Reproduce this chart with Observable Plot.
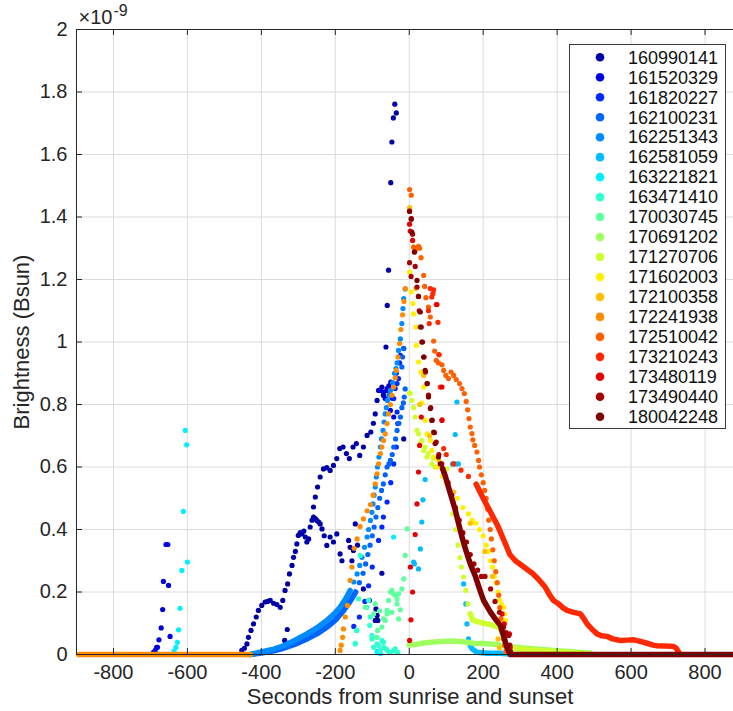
<!DOCTYPE html>
<html><head><meta charset="utf-8">
<script src="https://cdn.jsdelivr.net/npm/d3@7"></script>
<script src="https://cdn.jsdelivr.net/npm/@observablehq/plot@0.6"></script>
<style>body{margin:0;background:#fff;} #chart{width:733px;height:711px;}</style>
</head><body><div id="chart"></div>
<script>
const seriesNames = ["160990141","161520329","161820227","162100231","162251343","162581059","163221821","163471410","170030745","170691202","171270706","171602003","172100358","172241938","172510042","173210243","173480119","173490440","180042248"];
const seriesColors = ["#0000A8","#0000E0","#0028FF","#0064FF","#008CFF","#00BCFF","#00F0FF","#30FFD0","#60FFA0","#A0FF60","#D0FF30","#FFF000","#FFBF00","#FF8C00","#FF6000","#FF2800","#E60000","#A80000","#800000"];
const xTicks = [-800,-600,-400,-200,0,200,400,600,800];
const xTickLabels = ["-800","-600","-400","-200","0","200","400","600","800"];
const yTicks = [0,0.2,0.4,0.6,0.8,1,1.2,1.4,1.6,1.8,2];
const yTickLabels = ["0","0.2","0.4","0.6","0.8","1","1.2","1.4","1.6","1.8","2"];
const xLabel = "Seconds from sunrise and sunset";
const yLabel = "Brightness (Bsun)";
const yExponentBase = "\u00d710";
const yExponent = "-9";

// dots per series: [seconds, brightness (x1e-9)]
const dots160990141 = [[-453,0.013],[-446,0.02],[-439,0.034],[-435,0.055],[-428,0.077],[-421,0.098],[-414,0.12],[-408,0.141],[-399,0.157],[-390,0.168],[-383,0.17],[-376,0.173],[-367,0.164],[-358,0.16],[-349,0.151],[-342,0.173],[-336,0.205],[-329,0.226],[-324,0.258],[-317,0.285],[-313,0.311],[-308,0.33],[-304,0.354],[-300,0.381],[-295,0.39],[-290,0.386],[-285,0.395],[-281,0.376],[-277,0.36],[-272,0.37],[-268,0.408],[-263,0.43],[-259,0.44],[-254,0.435],[-250,0.429],[-245,0.424],[-241,0.418],[-236,0.402],[-230,0.38],[-259,0.472],[-254,0.504],[-248,0.536],[-241,0.568],[-232,0.594],[-223,0.598],[-214,0.589],[-205,0.605],[-196,0.627],[-188,0.659],[-179,0.664],[-170,0.643],[-162,0.627],[-152,0.664],[-143,0.675],[-134,0.637],[-124,0.664],[-114,0.701],[-104,0.712],[-97,0.74],[-92,0.77],[-87,0.813],[-83,0.845],[-74,0.856],[-70,0.83],[-60,0.845],[-50,0.872],[-63,0.984],[-59.5,1.117],[-56,1.23],[-50,1.51],[-47,1.64],[-43,1.717],[-35,1.733],[-39,1.761],[-330,0.08],[-337,0.045],[-223,0.349],[-214,0.376],[-205,0.36],[-196,0.386],[-187,0.322],[-182,0.3],[-164,0.365],[-160,0.343],[-151,0.333],[-146,0.418],[-155,0.3],[-140,0.35],[-124,0.21],[-108,0.173],[-92,0.109],[-87,0.125],[-90,0.146],[-85,0.109],[-74,0.26],[-15,0.69]];
const dots161520329 = [[-692,0.007],[-687,0.013],[-683,0.023],[-677,0.047],[-671,0.085],[-667,0.144],[-665,0.234],[-658,0.352],[-653,0.352],[-651,0.221],[-647,0.058],[-681,0.023],[-78,0.845],[-69,0.84],[-65,0.819],[-60,0.851],[-55,0.86],[-51,0.781],[-42,0.76],[-46,0.82]];
const dots161820227 = [[-83,0.365],[-74,0.408],[-70,0.44],[-60,0.488],[-50,0.55],[-42,0.61],[-35,0.664],[-31,0.739],[-33,0.776],[-42,0.819],[-38,0.851],[-33,0.867],[-29,0.883],[-35,0.9],[-26,0.933],[-24,0.957],[-15,0.98],[-100,0.28],[-110,0.22],[-120,0.17],[-135,0.12],[-150,0.09]];
const trace162100231 = [[-430,0],[-400,0.005],[-370,0.011],[-340,0.02],[-310,0.032],[-280,0.048],[-250,0.066],[-220,0.09],[-200,0.11],[-178,0.14],[-160,0.17],[-145,0.2]];
const dots162100231 = [[-135,0.23],[-125,0.26],[-118,0.29],[-112,0.32],[-106,0.35],[-100,0.38],[-95,0.408],[-90,0.44],[-85,0.47],[-80,0.5],[-75,0.525],[-70,0.546],[-65,0.575],[-60,0.6],[-55,0.61],[-51,0.621],[-46,0.64],[-42,0.664],[-37,0.69],[-33,0.717],[-28,0.74],[-24,0.76],[-20,0.79],[-16,0.805],[-13.5,0.824],[-11,0.85],[-20,0.92],[-18,0.952],[-15,0.979]];
const trace162251343 = [[-430,0],[-400,0.008],[-370,0.016],[-340,0.028],[-310,0.045],[-277,0.066],[-250,0.085],[-223,0.109],[-205,0.128],[-187,0.151],[-172,0.178],[-160,0.205]];
const dots162251343 = [[-150,0.232],[-141,0.258],[-134,0.285],[-128,0.311],[-121,0.343],[-114,0.376],[-110,0.4],[-105,0.429],[-101,0.455],[-98,0.482],[-95,0.51],[-92,0.536],[-89,0.568],[-86,0.6],[-82,0.632],[-78,0.664],[-75,0.69],[-71,0.717],[-68,0.744],[-65,0.77],[-62,0.79],[-59,0.813],[-55,0.83],[-51,0.845],[-45,0.87],[-40,0.9],[-36,0.915],[-33,0.933],[-29,0.973],[-24,1.01],[-20,1.059],[-17,1.107],[-15,1.139],[-11,1.17]];
const trace162581059 = [[165,0.03],[170,0.018],[183,0.007],[210,0.004],[246,0.004],[264,0.002]];
const dots162581059 = [[11.7,0.296],[14,0.29],[25,0.274],[30,0.338],[34,0.424],[37,0.495],[43,0.56],[117,0.61],[125,0.61],[133,0.61],[124.5,0.704],[129,0.808],[147,0.226],[153,0.162],[156,0.098],[160,0.05],[165,0.03]];
const dots163221821 = [[-606,0.717],[-602,0.671],[-611,0.458],[-600,0.296],[-615,0.269],[-620,0.148],[-624,0.079],[-627,0.039],[-631,0.023],[-636,0.011],[-42.5,0.376],[-78,0.003],[-87,0.01]];
const dots163471410 = [[-132.6,0.317],[-137,0.178],[-143,0.077],[-146,0.034],[-141.5,0.077],[-146,0.036],[-114.5,0.151],[-110,0.173],[-107,0.093],[-105.5,0.12],[-101,0.05],[-101,0.061],[-96.5,0.023],[-87,0.034],[-87,0.055],[-83,0.029],[-78.5,0.013],[-74,0.045],[-69.5,0.023],[-69.5,0.039],[-62,0.018],[-60,0.013],[-53,0.007],[-51,0.007],[-42.5,0.013],[-38,0.018],[-33,0.007],[-30.6,0.007]];
const dots170030745 = [[-6,0.402],[-11,0.317],[-15,0.242],[-20,0.21],[-29,0.194],[-33,0.178],[-42,0.194],[-51,0.2],[-56,0.173],[-47,0.205],[-60,0.13],[-69.5,0.114],[-74,0.088],[-92,0.162],[-96.5,0.13],[-119,0.151],[-24,0.143],[-33,0.162],[-29,0.114],[-47,0.135],[-60,0.141],[-65,0.109],[-85.6,0.077],[-89,0.055],[-80,0.14],[-38,0.19]];
const trace170691202 = [[0,0.03],[20,0.033],[40,0.037],[66,0.04],[90,0.042],[120,0.043],[150,0.04],[174,0.036],[200,0.035],[219,0.034],[240,0.031],[264,0.026],[300,0.022],[350,0.017],[400,0.012],[450,0.008],[490,0.004]];
const dots170691202 = [];
const dots171270706 = [[0.8,0.837],[2.7,0.835],[7,0.813],[11.7,0.79],[16,0.76],[21,0.717],[25,0.706],[30,0.675],[34,0.685],[39,0.653],[43,0.664],[48,0.632],[52,0.643],[61,0.61],[66,0.627],[70,0.6],[84,0.61],[102,0.594],[110,0.52],[118,0.45],[125,0.4],[132,0.35],[137,0.31],[141,0.28],[147,0.248],[153,0.205],[159,0.162],[165,0.13]];
const trace171270706 = [[165,0.13],[172,0.11],[185,0.105],[200,0.1],[215,0.097],[230,0.092],[245,0.085],[255,0.06],[262,0.03],[270,0.02],[300,0.017],[350,0.013],[400,0.009],[450,0.005],[490,0.002]];
const dots171602003 = [[0.8,1.427],[0.8,1.224],[5,1.16],[10,1.123],[11.7,1.09],[18,1.048],[19,0.989],[25,0.936],[31.6,0.904],[39,0.856],[34,0.805],[43,0.749],[48,0.706],[57,0.685],[61,0.653],[66,0.632],[75,0.6],[90,0.57],[100,0.55],[115,0.52],[130,0.5],[145,0.47],[160,0.45],[170,0.43],[180,0.42],[190,0.4],[200,0.38],[208,0.35],[215,0.33],[220,0.3],[225,0.28],[230,0.25],[235,0.23],[240,0.2],[244,0.173],[250,0.16],[255,0.151],[258,0.13],[260,0.109],[264,0.066],[266,0.03],[268,0.01]];
const dots172100358 = [[0.8,1.43],[11.7,1.304],[18,1.171],[39,0.893],[28,0.8],[55,0.7],[80,0.62],[120,0.52],[165,0.42],[205,0.33],[225,0.25],[240,0.05],[244,0.022],[250,0.1],[262,0.01]];
const trace172241938 = [[-894,0],[-430,0]];
const dots172241938 = [[-187,0.013],[-184,0.03],[-180,0.055],[-178,0.082],[-173,0.12],[-167,0.157],[-160,0.237],[-155,0.28],[-149,0.34],[-141,0.37],[-133,0.41],[-124,0.434],[-114,0.46],[-105,0.48],[-98,0.51],[-92,0.546],[-87,0.578],[-83,0.61],[-78,0.643],[-74,0.664],[-69.5,0.685],[-65,0.706],[-60,0.739],[-56,0.77],[-51,0.8],[-47,0.83],[-42.5,0.856],[-38,0.885],[-35,0.909],[-30.6,0.952],[-26,0.995],[-22.5,1.04],[-18,1.087],[-14.3,1.13],[-10.8,1.171]];
const dots172510042 = [[0.8,1.488],[5.4,1.47],[11.7,1.304],[16,1.293],[25,1.306],[28,1.3],[32,1.27],[39,1.213],[41.6,1.178],[45,1.142],[52,1.112],[57,1.08],[66,1.003],[68.6,0.971],[73,0.941],[79,0.933],[81,0.959],[88.5,0.927],[93,0.909],[99,0.893],[106,0.883],[113,0.904],[120,0.893],[127,0.88],[136,0.867],[142.6,0.851],[149,0.835],[154,0.81],[158,0.783],[161.6,0.755],[165,0.728],[169.6,0.707],[172,0.687],[177,0.669],[183,0.648],[187.6,0.621],[190,0.6],[195,0.575],[200,0.55],[204,0.525],[208,0.5],[212,0.465],[215,0.43],[219,0.4],[222,0.37],[226,0.335],[230,0.3],[234,0.265],[238,0.23],[242,0.19],[245,0.15],[248,0.115],[252,0.08],[255,0.05],[258,0.03],[262,0.01]];
const dots173210243 = [[57,1.171],[64,1.155],[61,1.144],[66,1.167],[73,1.12],[52,1.1],[54,1.059],[77.6,1.063],[84,0.856],[88.5,0.751],[93,0.659],[80,0.96],[100,0.64],[120,0.61],[140,0.59],[160,0.57]];
const trace173210243 = [[181,0.545],[200,0.5],[220,0.455],[240,0.41],[258,0.36],[272,0.32],[287,0.3],[310,0.28],[333,0.26],[350,0.24],[368,0.215],[380,0.19],[390,0.173],[403,0.163],[415,0.15],[427,0.141],[445,0.135],[463,0.13],[472,0.115],[481,0.098],[495,0.08],[508,0.066],[520,0.06],[535,0.058],[550,0.05],[571,0.045],[590,0.046],[607,0.047],[625,0.042],[643,0.036],[660,0.03],[670,0.028],[690,0.027],[715,0.026],[722,0.02],[729,0.007],[731,0]];
const dots173480119 = [[0.8,1.377],[2.7,1.355],[9,1.325],[32.5,0.76],[28,0.669],[25,0.584],[21,0.482],[16,0.384],[9,0.2],[4.5,0.111],[0.9,0.045],[3,0.28],[88.5,0.856],[88.5,0.749],[75,1.12],[251,0.13],[257,0.098],[271,0.066],[273,0.023]];
const dots173490440 = [[0.8,1.418],[5.4,1.395],[9,1.345],[14,1.288],[0.8,1.254],[16,1.242],[5,1.21],[21,1.176],[25,1.146],[27,1.1],[30,1.048],[36,1.0],[40,0.952],[44,0.904],[49,0.867],[52,0.83],[58,0.79],[62,0.75],[68,0.71],[73,0.68],[80,0.64],[88,0.61],[95,0.58],[105,0.55],[115,0.51],[125,0.47],[135,0.43],[145,0.39],[155,0.36],[165,0.32],[175,0.29],[185,0.27],[195,0.25],[205,0.25],[220,0.21],[232,0.17],[244,0.135],[255,0.087],[262,0.07],[269,0.061],[272,0.03],[274,0.01]];
const dots180042248 = [[0.8,1.419],[5.4,1.393],[7,1.352],[14,1.288],[21,1.197],[25,1.146],[30,1.096],[32.5,1.048],[34,1.0],[39,0.952],[43,0.909],[48,0.867],[52,0.824],[57,0.787],[61,0.749],[66,0.712],[70,0.675],[79,0.632],[84,0.61],[90,0.595]];
const trace180042248 = [[90,0.595],[97,0.573],[110,0.52],[125,0.46],[138,0.397],[150,0.345],[165,0.29],[178,0.253],[190,0.21],[201,0.173],[220,0.135],[235,0.11],[246,0.093],[255,0.06],[264,0.023],[273,0],[877,0]];

const seriesDots = [dots160990141,dots161520329,dots161820227,dots162100231,dots162251343,dots162581059,dots163221821,dots163471410,dots170030745,dots170691202,dots171270706,dots171602003,dots172100358,dots172241938,dots172510042,dots173210243,dots173480119,dots173490440,dots180042248];
const seriesTraces = [[],[],[],trace162100231,trace162251343,trace162581059,[],[],[],trace170691202,trace171270706,[],[],trace172241938,[],trace173210243,[],[],trace180042248];

const AX = "#262626";
const FONT = "'Liberation Sans', Arial, Helvetica, sans-serif";
const marks = [
  Plot.gridX(xTicks, {stroke: "#dcdcdc", strokeOpacity: 1}),
  Plot.gridY(yTicks, {stroke: "#dcdcdc", strokeOpacity: 1})
];
seriesNames.forEach((name, i) => {
  if (seriesTraces[i].length) marks.push(Plot.line(seriesTraces[i], {x: d => d[0], y: d => d[1], stroke: seriesColors[i], strokeWidth: 5.5, strokeLinecap: "round", strokeLinejoin: "round"}));
  marks.push(Plot.dot(seriesDots[i], {x: d => d[0], y: d => d[1], r: 2.6, fill: seriesColors[i], stroke: "none"}));
});
marks.push(
  Plot.ruleY([0], {stroke: AX, strokeWidth: 1}),
  Plot.ruleY([2], {stroke: AX, strokeWidth: 1}),
  Plot.ruleX([-900], {stroke: AX, strokeWidth: 1}),
  Plot.tickX(xTicks, {x: d => d, insetTop: 619, stroke: AX}),
  Plot.tickX(xTicks, {x: d => d, insetBottom: 619, stroke: AX}),
  Plot.tickY(yTicks, {y: d => d, insetRight: 651, stroke: AX}),
  Plot.axisX({ticks: xTicks, tickFormat: (d, i) => xTickLabels[i], tickSize: 0, tickPadding: 10.5, fontSize: 20, label: null, fill: AX}),
  Plot.axisY({ticks: yTicks, tickFormat: (d, i) => yTickLabels[i], tickSize: 0, tickPadding: 9, fontSize: 20, label: null, fill: AX}),
  Plot.text([xLabel], {frameAnchor: "bottom", text: d => d, dy: 42.5, dx: 5, fontSize: 22, fill: AX, textAnchor: "middle", lineAnchor: "middle"}),
  Plot.text([yLabel], {frameAnchor: "left", text: d => d, dx: -55, rotate: -90, fontSize: 22, fill: AX, textAnchor: "middle", lineAnchor: "middle"}),
  Plot.text([yExponentBase], {frameAnchor: "top-left", text: d => d, dx: 2, dy: -12, fontSize: 20, textAnchor: "start", lineAnchor: "middle", fill: AX}),
  Plot.text([yExponent], {frameAnchor: "top-left", text: d => d, dx: 37, dy: -19, fontSize: 16, textAnchor: "start", lineAnchor: "middle", fill: AX})
);

const chart = Plot.plot({
  width: 733, height: 711,
  marginLeft: 76, marginRight: 0, marginTop: 29, marginBottom: 57,
  x: {domain: [-900, 877]},
  y: {domain: [0, 2]},
  style: {fontFamily: FONT, background: "#fff", color: AX},
  marks
});

// legend box (MATLAB-style, inside the axes)
const svg = d3.select(chart);
const lg = svg.append("g").attr("font-family", FONT);
lg.append("rect").attr("x", 569.5).attr("y", 44.5).attr("width", 156).attr("height", 384)
  .attr("fill", "#fff").attr("stroke", "#3a3a3a").attr("stroke-width", 1);
seriesNames.forEach((name, i) => {
  const cy = 57.3 + 19.97 * i;
  lg.append("circle").attr("cx", 600).attr("cy", cy).attr("r", 4.3).attr("fill", seriesColors[i]);
  lg.append("text").attr("x", 628).attr("y", cy).attr("dy", "0.35em").attr("text-anchor", "start")
    .attr("font-size", 18).attr("fill", "#111").text(name);
});
document.getElementById("chart").appendChild(chart);
</script>
</body></html>
